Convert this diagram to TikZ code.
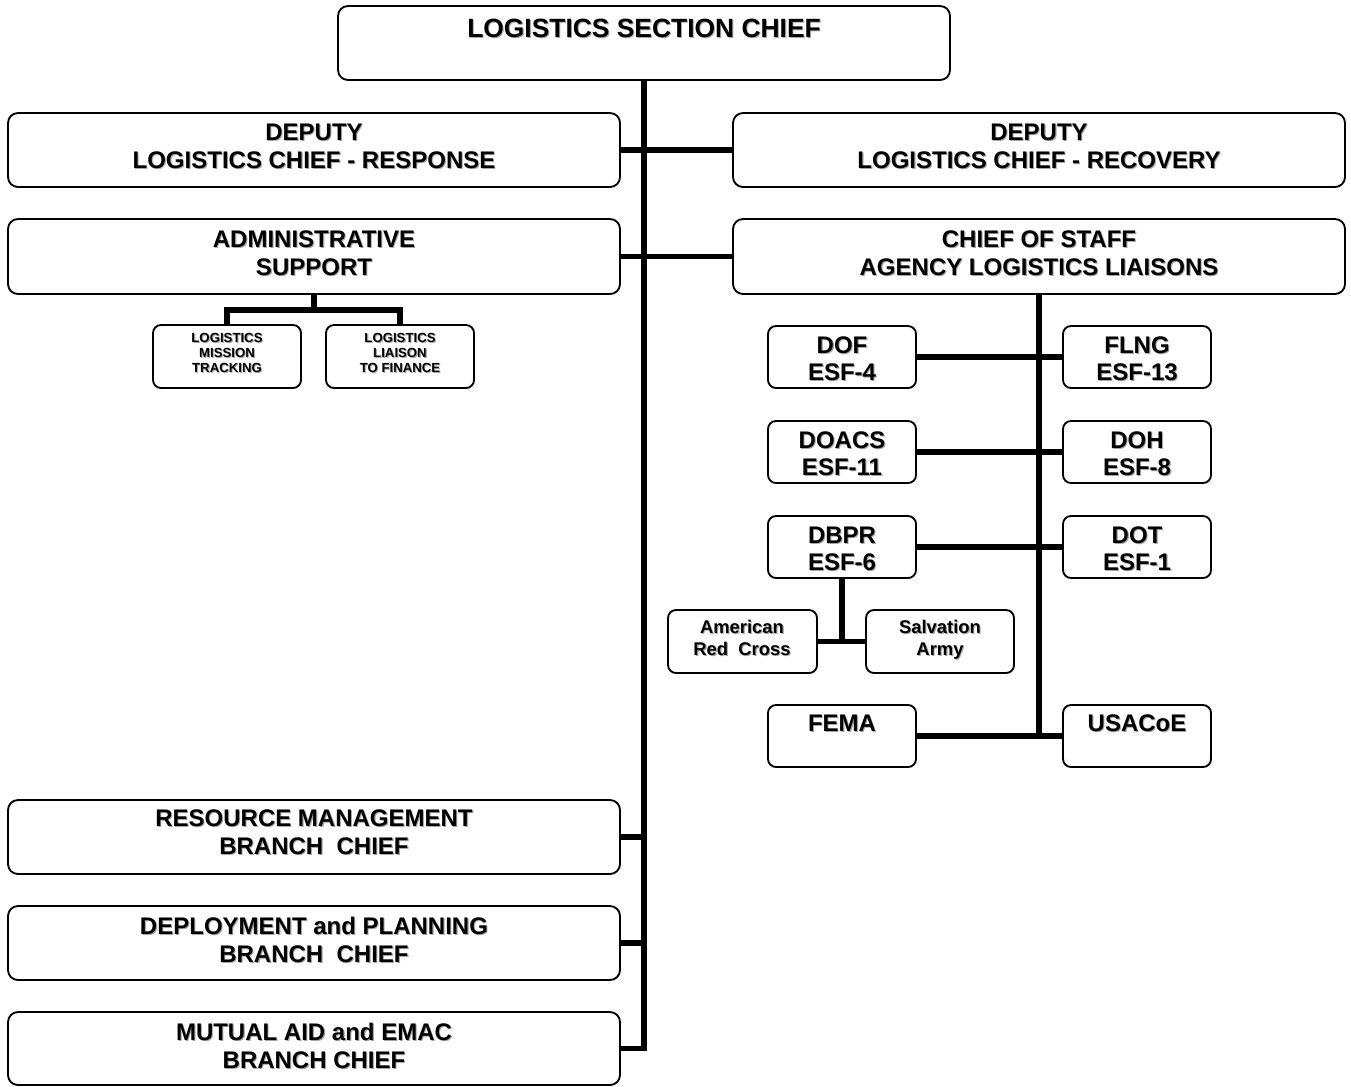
\documentclass[tikz,border=0pt]{standalone}
\usepackage{fontspec}
\setmainfont{Liberation Sans}
\usetikzlibrary{fit}

% one unit = one pixel of the chart grid; y grows downwards
\tikzset{
  card/.style={draw=black, line width=1.4pt, rounded corners=7.5pt, inner sep=0pt},
  smallcard/.style={card, rounded corners=6pt},
  link/.style={line width=3.8pt, line join=miter, line cap=butt},
  txt/.style={anchor=north, inner sep=0pt, align=center, text=black},
  ttitle/.style={txt, font=\fontsize{19.8}{23}\selectfont\bfseries},
  tbig/.style={txt, font=\fontsize{18}{21}\selectfont\bfseries},
  tagency/.style={txt, font=\fontsize{18}{20.25}\selectfont\bfseries},
  tmid/.style={txt, font=\fontsize{13.8}{16.5}\selectfont\bfseries},
  tsmall/.style={txt, font=\fontsize{9.9}{11.25}\selectfont\bfseries},
  shade/.style={text=black!35, xshift=0.8pt, yshift=-0.8pt},
}

% label with a soft grey drop shadow: name, position, style, text
\newcommand\chartlabel[4]{%
  \node[#3, shade] (#1-sh) at (#2) {#4};
  \node[#3] (#1) at (#2) {#4};}

\begin{document}
\begin{tikzpicture}[x=0.75pt, y=-0.75pt]
\useasboundingbox (0,0) rectangle (1351,1086);

% ---- boxes ----
\node[card, fit={(338,6) (950,80)}] (lsc) {};
\node[card, fit={(8,113) (620,187)}] (dres) {};
\node[card, fit={(733,113) (1345,187)}] (drec) {};
\node[card, fit={(8,219) (620,294)}] (adm) {};
\node[card, fit={(733,219) (1345,294)}] (cos) {};
\node[smallcard, fit={(153,325) (301,388)}] (lmt) {};
\node[smallcard, fit={(326,325) (474,388)}] (llf) {};
\node[smallcard, fit={(768,326) (916,388)}] (dof) {};
\node[smallcard, fit={(1063,326) (1211,388)}] (flng) {};
\node[smallcard, fit={(768,421) (916,483)}] (doacs) {};
\node[smallcard, fit={(1063,421) (1211,483)}] (doh) {};
\node[smallcard, fit={(768,516) (916,578)}] (dbpr) {};
\node[smallcard, fit={(1063,516) (1211,578)}] (dot) {};
\node[smallcard, fit={(668,610) (817,673)}] (arc) {};
\node[smallcard, fit={(866,610) (1014,673)}] (sa) {};
\node[smallcard, fit={(768,705) (916,767)}] (fema) {};
\node[smallcard, fit={(1063,705) (1211,767)}] (usace) {};
\node[card, fit={(8,800) (620,874)}] (rm) {};
\node[card, fit={(8,906) (620,980)}] (dp) {};
\node[card, fit={(8,1012) (620,1085)}] (mut) {};

% ---- connectors ----
\draw[link] (lsc.south) |- (mut.east);
\draw[link] (dres) -- (drec);
\draw[link] (adm) -- (cos);
\draw[link] (rm.east) -- (rm.east -| lsc.south);
\draw[link] (dp.east) -- (dp.east -| lsc.south);

\coordinate (admj) at (314,310);
\draw[link] (adm.south) -- (admj);
\draw[link] (lmt.north) |- (admj) -| (llf.north);

\draw[link] (cos.south) -- (cos.south |- fema.east);
\draw[link] (dof) -- (flng);
\draw[link] (doacs) -- (doh);
\draw[link] (dbpr) -- (dot);
\draw[link] (fema) -- (usace);

\draw[link] (dbpr.south) -- (dbpr.south |- arc.east);
\draw[link] (arc) -- (sa);

% ---- texts ----
\chartlabel{lsc-t}{644,18.5}{ttitle}{LOGISTICS SECTION CHIEF}
\chartlabel{dres-t}{314,123.4}{tbig}{DEPUTY\\LOGISTICS CHIEF - RESPONSE}
\chartlabel{drec-t}{1039,123.4}{tbig}{DEPUTY\\LOGISTICS CHIEF - RECOVERY}
\chartlabel{adm-t}{314,230.4}{tbig}{ADMINISTRATIVE\\SUPPORT}
\chartlabel{cos-t}{1039,230.4}{tbig}{CHIEF OF STAFF\\AGENCY LOGISTICS LIAISONS}
\chartlabel{lmt-t}{227,333.3}{tsmall}{LOGISTICS\\MISSION\\TRACKING}
\chartlabel{llf-t}{400,333.3}{tsmall}{LOGISTICS\\LIAISON\\TO FINANCE}
\chartlabel{dof-t}{842,336.4}{tagency}{DOF\\ESF-4}
\chartlabel{flng-t}{1137,336.4}{tagency}{FLNG\\ESF-13}
\chartlabel{doacs-t}{842,431.4}{tagency}{DOACS\\ESF-11}
\chartlabel{doh-t}{1137,431.4}{tagency}{DOH\\ESF-8}
\chartlabel{dbpr-t}{842,526.4}{tagency}{DBPR\\ESF-6}
\chartlabel{dot-t}{1137,526.4}{tagency}{DOT\\ESF-1}
\chartlabel{arc-t}{742,619.4}{tmid}{American\\Red\ \ Cross}
\chartlabel{sa-t}{940,619.4}{tmid}{Salvation\\Army}
\chartlabel{fema-t}{842,714.4}{tagency}{FEMA}
\chartlabel{usace-t}{1137,714.4}{tagency}{USACoE}
\chartlabel{rm-t}{314,809.4}{tbig}{RESOURCE MANAGEMENT\\BRANCH\ \ CHIEF}
\chartlabel{dp-t}{314,916.4}{tbig}{DEPLOYMENT and PLANNING\\BRANCH\ \ CHIEF}
\chartlabel{mut-t}{314,1022.4}{tbig}{MUTUAL AID and EMAC\\BRANCH CHIEF}
\end{tikzpicture}
\end{document}
